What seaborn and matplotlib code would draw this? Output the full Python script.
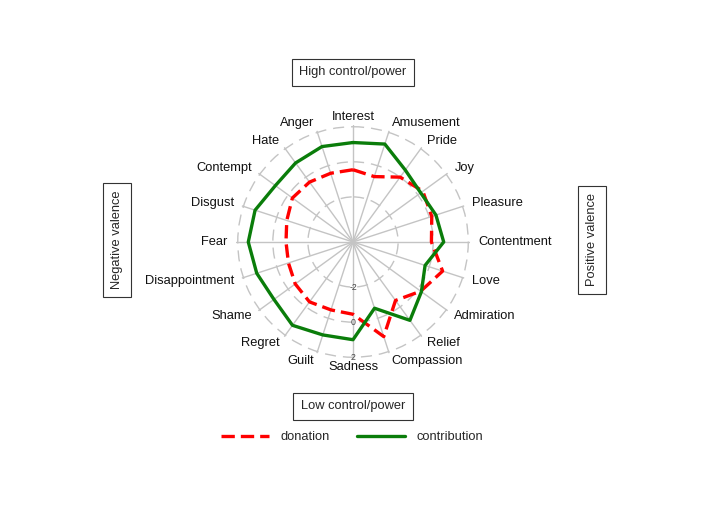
import numpy as np
import pandas as pd
import matplotlib
matplotlib.use("Agg")
import matplotlib.pyplot as plt
import seaborn as sns

# ---- data ----
emotions = ["Interest", "Amusement", "Pride", "Joy", "Pleasure", "Contentment",
            "Love", "Admiration", "Relief", "Compassion", "Sadness", "Guilt",
            "Regret", "Shame", "Disappointment", "Fear", "Disgust", "Contempt",
            "Hate", "Anger"]
donation = [-0.45, -0.65, 0.0, 0.35, 0.15, -0.1, 0.8, 0.2, -0.45, 1.1,
            -0.45, -0.5, -0.35, -0.5, -0.7, -0.75, -0.6, -0.3, -0.35, -0.45]
contribution = [1.1, 1.3, 0.5, 0.2, 0.4, 0.6, -0.25, 0.25, 0.95, -0.6,
                1.0, 1.0, 1.3, 1.0, 1.2, 1.4, 1.3, 0.9, 1.0, 1.15]
series_names = ["donation", "contribution"]
r_ticks = [-2, 0, 2]
r_tick_labels = ["-2", "0", "2"]
r_min, r_max = -4.57, 2.1
label_r = 2.57

sns.set_theme(style="white")
plt.rcParams["font.family"] = ["Liberation Sans", "DejaVu Sans"]

n = len(emotions)
theta = np.deg2rad(np.arange(n) * 360.0 / n)

rows = []
for name, vals in zip(series_names, [donation, contribution]):
    for th, v in zip(list(theta) + [2 * np.pi], list(vals) + [vals[0]]):
        rows.append({"theta": th, "value": v, "series": name})
df = pd.DataFrame(rows)

fig = plt.figure(figsize=(7.03, 5.15), dpi=100)
ax = fig.add_axes([0.3357, 0.3029, 0.3329, 0.4544], projection="polar")
ax.set_theta_offset(np.pi / 2)
ax.set_theta_direction(-1)

sns.lineplot(data=df, x="theta", y="value", hue="series", style="series",
             hue_order=series_names, style_order=series_names,
             palette={"donation": "#ff0000", "contribution": "#0a7d0a"},
             dashes={"donation": (4, 1.8), "contribution": ""},
             estimator=None, sort=True, linewidth=2.4, ax=ax, zorder=3)

ax.set_ylim(r_min, r_max)
ax.set_xticks(theta)
ax.set_xticklabels([])
ax.set_yticks(r_ticks)
ax.set_yticklabels([])
ax.set_xlabel("")
ax.set_ylabel("")
ax.xaxis.grid(True, color="#c4c4c4", lw=1.0, ls="-")
ax.yaxis.grid(True, color="#c4c4c4", lw=1.0, ls=(0, (8, 5)))
ax.spines["polar"].set_visible(False)
ax.set_facecolor("white")

for th, name in zip(theta, emotions):
    s = np.sin(th)
    ha = "left" if s > 0.01 else ("right" if s < -0.01 else "center")
    ax.text(th, label_r, name, ha=ha, va="center", fontsize=9.3,
            color="#111111", clip_on=False)

for v, t in zip(r_ticks, r_tick_labels):
    ax.text(np.pi, v, t, ha="center", va="center", fontsize=6.3,
            color="#444444", zorder=4)

handles, labels = ax.get_legend_handles_labels()
if ax.get_legend() is not None:
    ax.get_legend().remove()
for h in handles:
    h.set_linewidth(2.4)
fig.legend(handles, labels, loc="center", bbox_to_anchor=(352 / 703, 1 - 437 / 515),
           ncol=2, frameon=False, handlelength=3.7, columnspacing=2.1,
           handletextpad=0.9, fontsize=9.3)

box = dict(boxstyle="square,pad=0.6", fc="white", ec="#333333", lw=0.8)
fig.text(353 / 703, 1 - 71 / 515, "High control/power", ha="center",
         va="center_baseline", fontsize=9.3, bbox=box)
fig.text(353 / 703, 1 - 405 / 515, "Low control/power", ha="center",
         va="center_baseline", fontsize=9.3, bbox=box)
fig.text(117 / 703, 1 - 240 / 515, "Negative valence", ha="center", va="center",
         fontsize=9.3, rotation=90, bbox=box)
fig.text(592 / 703, 1 - 240 / 515, "Positive valence", ha="center", va="center",
         fontsize=9.3, rotation=90, bbox=box)

fig.savefig("out.png", dpi=100, facecolor="white")
